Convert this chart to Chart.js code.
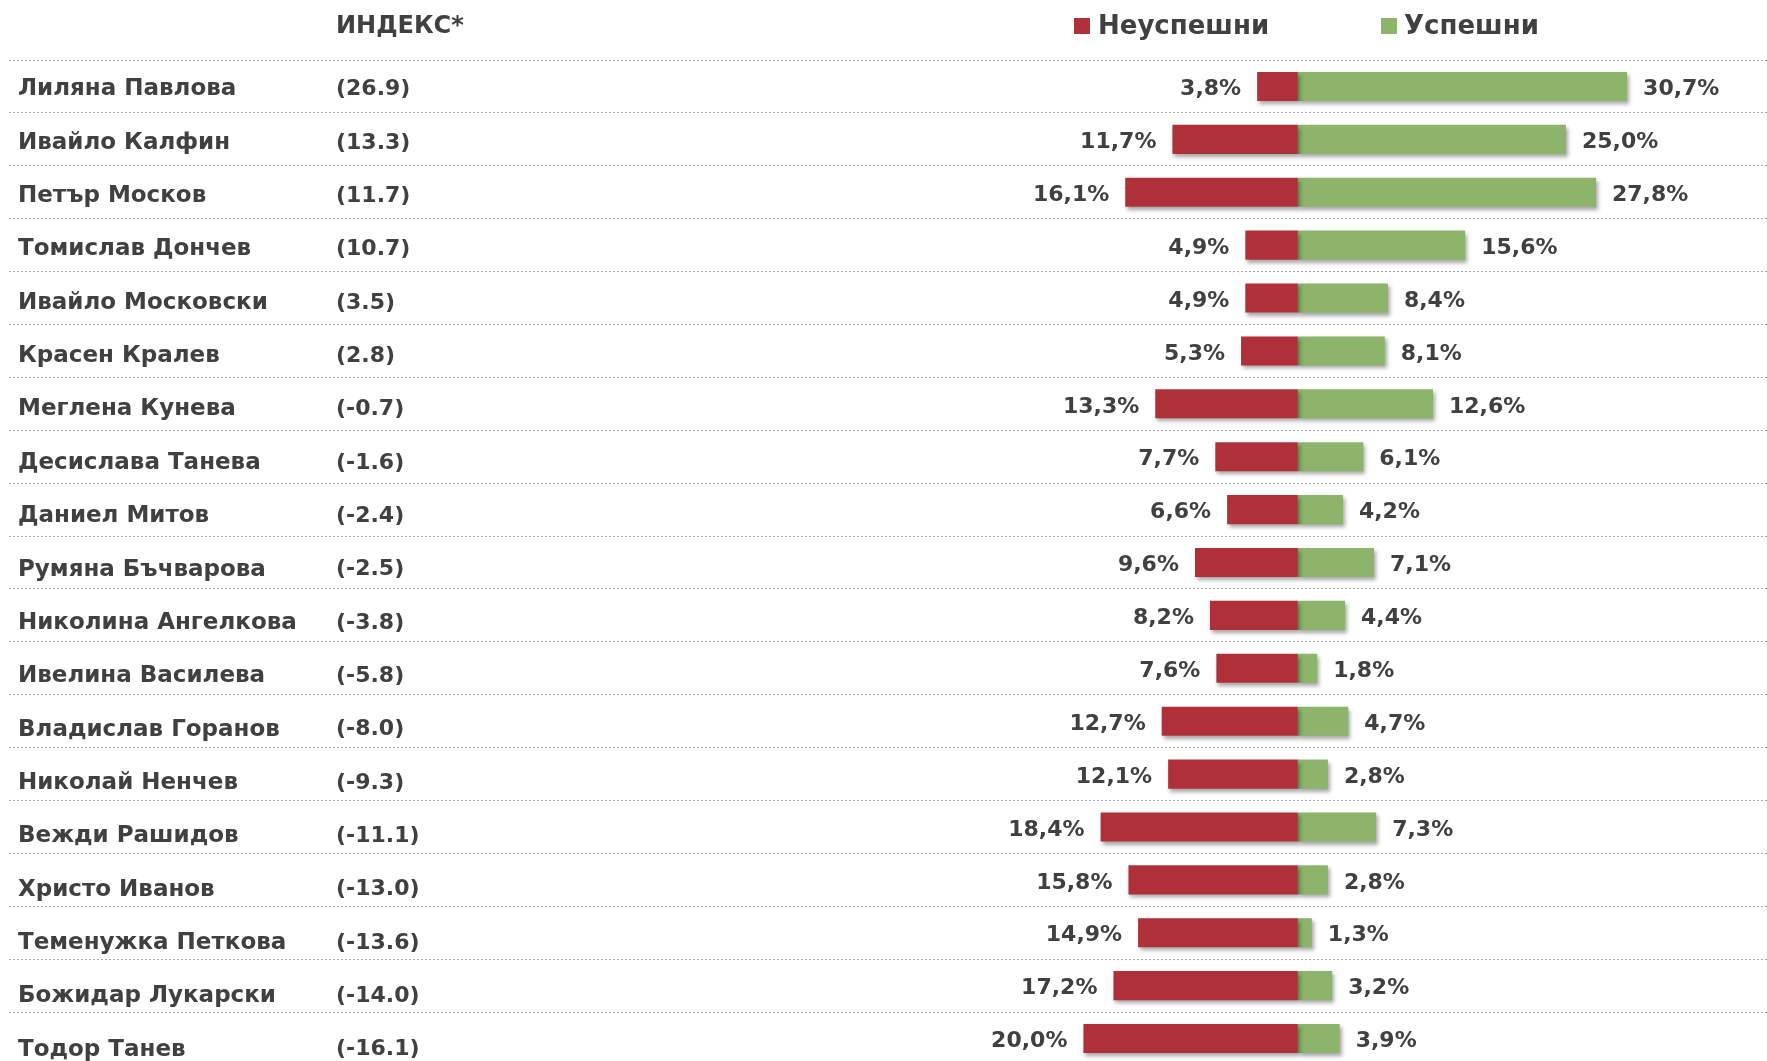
<!DOCTYPE html>
<html>
<head>
<meta charset="utf-8">
<script src="https://cdn.jsdelivr.net/npm/chart.js@4"></script>
<style>
  html, body { margin: 0; padding: 0; background: #fff; overflow: hidden; }
  #wrap { width: 1767px; height: 1070px; }
</style>
</head>
<body>
<div id="wrap"><canvas id="ministersChart" width="1767" height="1070"></canvas></div>
<script>
// names + index column, top to bottom
const names = ['Лиляна Павлова', 'Ивайло Калфин', 'Петър Москов', 'Томислав Дончев', 'Ивайло Московски',
    'Красен Кралев', 'Меглена Кунева', 'Десислава Танева', 'Даниел Митов', 'Румяна Бъчварова',
    'Николина Ангелкова', 'Ивелина Василева', 'Владислав Горанов', 'Николай Ненчев', 'Вежди Рашидов',
    'Христо Иванов', 'Теменужка Петкова', 'Божидар Лукарски', 'Тодор Танев'];
const indexValues = [26.9, 13.3, 11.7, 10.7, 3.5, 2.8, -0.7, -1.6, -2.4, -2.5, -3.8, -5.8, -8.0, -9.3, -11.1, -13.0, -13.6, -14.0, -16.1];
const failed = [3.8, 11.7, 16.1, 4.9, 4.9, 5.3, 13.3, 7.7, 6.6, 9.6, 8.2, 7.6, 12.7, 12.1, 18.4, 15.8, 14.9, 17.2, 20.0];
const successful = [30.7, 25.0, 27.8, 15.6, 8.4, 8.1, 12.6, 6.1, 4.2, 7.1, 4.4, 1.8, 4.7, 2.8, 7.3, 2.8, 1.3, 3.2, 3.9];
const seriesLabels = ['Неуспешни', 'Успешни'];
const indexTitle = 'ИНДЕКС*';

const RED = '#B0303A';
const GREEN = '#8CB46A';
const TEXT = '#404040';
const FONT = '"DejaVu Sans", sans-serif';

const pct = v => v.toFixed(1).replace('.', ',') + '%';

// soft drop shadow under the bars
const barShadow = {
    id: 'barShadow',
    beforeDatasetsDraw(chart) {
        const ctx = chart.ctx;
        ctx.save();
        ctx.shadowColor = 'rgba(0,0,0,0.35)';
        ctx.shadowBlur = 4;
        ctx.shadowOffsetX = 2;
        ctx.shadowOffsetY = 3;
    },
    afterDatasetsDraw(chart) {
        chart.ctx.restore();
    }
};

// names, index column, value labels, header and legend
const textLayer = {
    id: 'textLayer',
    afterDraw(chart) {
        const ctx = chart.ctx;
        const y = chart.scales.y;
        const redBars = chart.getDatasetMeta(0).data;
        const greenBars = chart.getDatasetMeta(1).data;
        ctx.save();
        ctx.fillStyle = TEXT;
        ctx.textBaseline = 'middle';

        names.forEach((name, i) => {
            const py = y.getPixelForValue(i) + 3;
            // the name table in the original sits on a slightly taller row pitch
            const nameY = py + i * 0.45;
            ctx.font = 'bold 23px ' + FONT;
            ctx.textAlign = 'left';
            ctx.fillText(name, 18, nameY);
            ctx.font = 'bold 22px ' + FONT;
            ctx.fillText('(' + indexValues[i].toFixed(1) + ')', 336, nameY);

            ctx.textAlign = 'right';
            ctx.fillText(pct(failed[i]), redBars[i].x - 16, py);
            ctx.textAlign = 'left';
            ctx.fillText(pct(successful[i]), greenBars[i].x + 16, py);
        });

        // header
        ctx.font = 'bold 24px ' + FONT;
        ctx.textAlign = 'left';
        ctx.fillText(indexTitle, 336, 27);

        // legend
        ctx.font = 'bold 26px ' + FONT;
        ctx.fillStyle = RED;
        ctx.fillRect(1074, 18, 16, 16);
        ctx.fillStyle = GREEN;
        ctx.fillRect(1381, 18, 16, 16);
        ctx.fillStyle = TEXT;
        ctx.fillText(seriesLabels[0], 1098, 27);
        ctx.fillText(seriesLabels[1], 1404, 27);
        ctx.restore();
    }
};

new Chart(document.getElementById('ministersChart'), {
    type: 'bar',
    data: {
        labels: names,
        datasets: [
            {
                label: seriesLabels[0],
                data: failed.map(v => -v),
                backgroundColor: RED,
                borderWidth: 0,
                barPercentage: 0.55,
                categoryPercentage: 1
            },
            {
                label: seriesLabels[1],
                data: successful,
                backgroundColor: GREEN,
                borderWidth: 0,
                barPercentage: 0.55,
                categoryPercentage: 1
            }
        ]
    },
    options: {
        indexAxis: 'y',
        responsive: false,
        animation: false,
        events: [],
        layout: { padding: { top: 60, bottom: 5, left: 9, right: 0 } },
        plugins: { legend: { display: false }, tooltip: { enabled: false } },
        scales: {
            x: { display: false, stacked: true, min: -120.2, max: 43.75 },
            y: {
                stacked: true,
                ticks: { display: false },
                grid: { offset: true, drawTicks: false, color: '#a6a6a6', lineWidth: 1 },
                border: { display: false, dash: [2, 2] }
            }
        }
    },
    plugins: [barShadow, textLayer]
});
</script>
</body>
</html>
